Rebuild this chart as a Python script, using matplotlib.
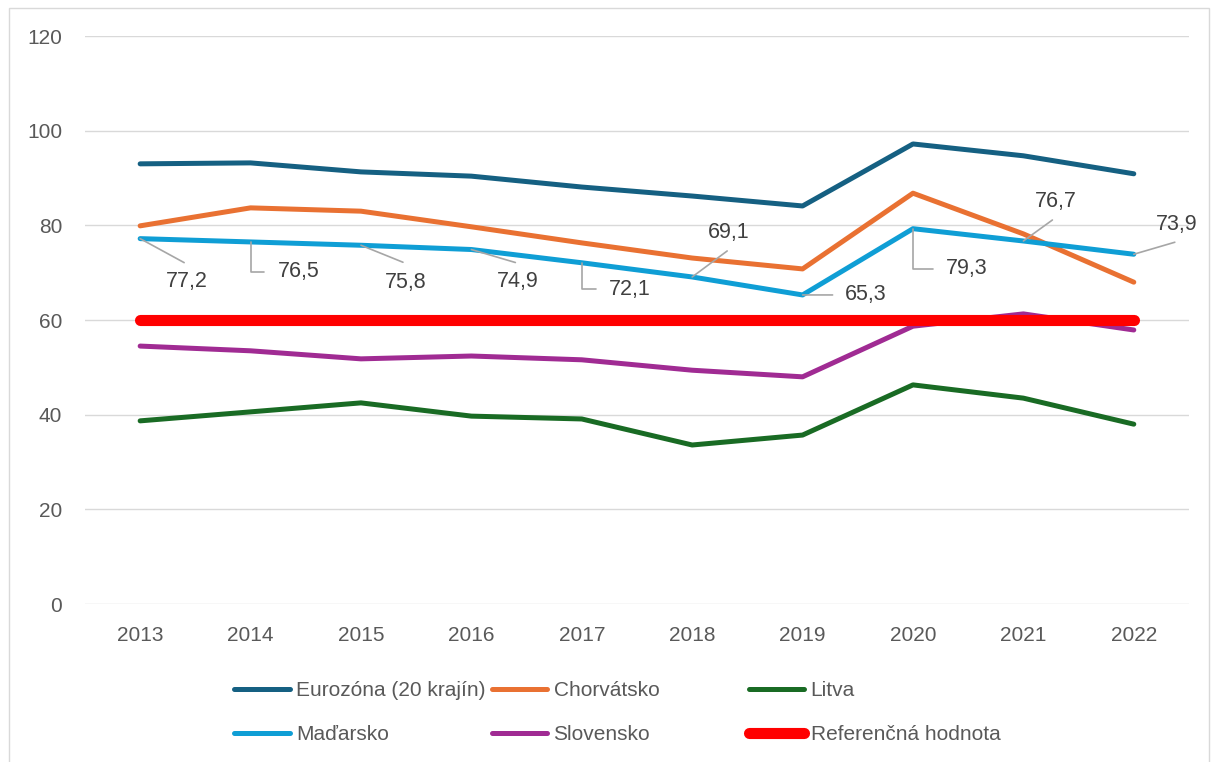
import numpy as np
import matplotlib.pyplot as plt
from matplotlib.patches import Rectangle

plt.rcParams['font.family'] = ['Liberation Sans', 'DejaVu Sans']

# Data
years = ['2013', '2014', '2015', '2016', '2017', '2018', '2019', '2020', '2021', '2022']
eurozona = [93.0, 93.2, 91.3, 90.4, 88.1, 86.2, 84.1, 97.2, 94.7, 90.9]
chorvatsko = [79.9, 83.7, 83.0, 79.7, 76.3, 73.1, 70.8, 86.8, 78.2, 68.0]
litva = [38.7, 40.6, 42.5, 39.7, 39.1, 33.6, 35.7, 46.3, 43.5, 38.0]
madarsko = [77.2, 76.5, 75.8, 74.9, 72.1, 69.1, 65.3, 79.3, 76.7, 73.9]
slovensko = [54.5, 53.5, 51.8, 52.4, 51.6, 49.4, 48.0, 58.7, 61.3, 57.9]
referencna = [60] * 10

# Hungary data labels: text offset, leader end offset (pixels), elbow leader or straight
txt_off = [(47, -43), (48, -30), (45, -37), (46, -32), (48, -27),
           (37, 44), (63, 0), (54, -40), (32, 39), (43, 30)]
end_off = [(44, -24), (13, -30), (42, -17), (44, -13), (14, -26),
           (35, 26), (30, 0), (20, -40), (29, 21), (41, 12)]
elbow = [False, True, False, False, True, False, False, True, False, False]

fig = plt.figure(figsize=(12.24, 7.62), dpi=100)
fig.patches.append(Rectangle((0.007, -0.01), 0.981, 1.0, transform=fig.transFigure,
                             fill=False, edgecolor='#D9D9D9', linewidth=1))
ax = fig.add_axes([0.0694, 0.2073, 0.902, 0.7454])

x = np.arange(len(years))
l1, = ax.plot(x, eurozona, color='#156082', lw=3.6, solid_capstyle='round', label='Eurozóna (20 krajín)')
l2, = ax.plot(x, chorvatsko, color='#E97132', lw=3.6, solid_capstyle='round', label='Chorvátsko')
l3, = ax.plot(x, litva, color='#196B24', lw=3.6, solid_capstyle='round', label='Litva')
l4, = ax.plot(x, madarsko, color='#0F9ED5', lw=3.6, solid_capstyle='round', label='Maďarsko')
l5, = ax.plot(x, slovensko, color='#A02B93', lw=3.6, solid_capstyle='round', label='Slovensko')
l6, = ax.plot(x, referencna, color='#FF0000', lw=8, solid_capstyle='round', label='Referenčná hodnota')

for i, v in enumerate(madarsko):
    cs = 'angle,angleA=0,angleB=90,rad=0' if elbow[i] else 'arc3'
    ax.annotate('', xy=(i, v), xytext=end_off[i], textcoords='offset pixels',
                arrowprops=dict(arrowstyle='-', color='#A6A6A6', lw=1.2,
                                connectionstyle=cs, shrinkA=0, shrinkB=0))
    ax.annotate(f'{v:.1f}'.replace('.', ','), xy=(i, v), xytext=txt_off[i],
                textcoords='offset pixels', ha='center', va='center',
                fontsize=15.5, color='#404040')

ax.set_xlim(-0.5, 9.5)
ax.set_ylim(0, 120)
ax.set_yticks(range(0, 121, 20))
ax.set_xticks(x)
ax.set_xticklabels(years)
ax.grid(axis='y', color='#D9D9D9', lw=1)
ax.set_axisbelow(True)
for s in ax.spines.values():
    s.set_visible(False)
ax.tick_params(length=0, labelsize=15, labelcolor='#595959', pad=16)
ax.tick_params(axis='y', pad=16.5)

# legend: three columns placed like the original
cols = [[l1, l4], [l2, l5], [l3, l6]]
col_x = [0.183, 0.3935, 0.6035]
for hs, cx in zip(cols, col_x):
    leg = fig.legend(hs, [h.get_label() for h in hs], loc='upper left',
                     bbox_to_anchor=(cx, 0.1195), frameon=False, borderpad=0,
                     prop={'size': 15},
                     handlelength=2.65, handletextpad=0.3, labelspacing=1.2,
                     labelcolor='#595959')

fig.savefig('out.png', dpi=100)
